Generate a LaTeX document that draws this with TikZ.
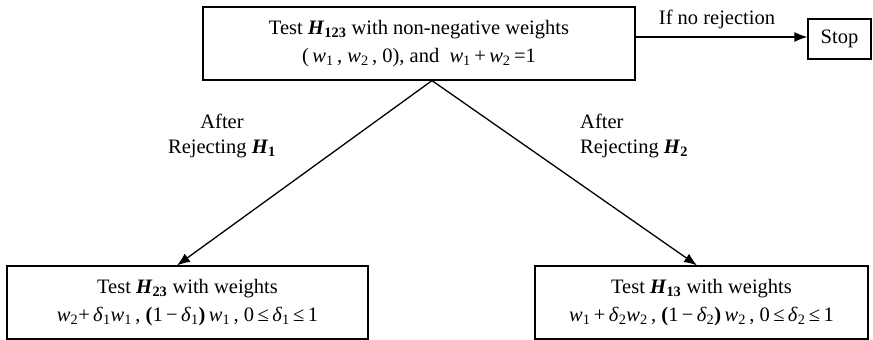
\documentclass[tikz,border=0pt]{standalone}
\usepackage{fontspec}
\setmainfont{Liberation Serif}
\usetikzlibrary{arrows.meta}
\newcommand\wi[1]{\textit{w}\textsubscript{#1}}
\newcommand\di[1]{\textit{δ}\textsubscript{#1}}
\newcommand\Hb[1]{\textbf{\textit{H}\textsubscript{#1}}}
\begin{document}
\begin{tikzpicture}[x=1pt,y=1pt,
  box/.style={draw, line width=1.2pt, align=center, inner sep=0pt,
    font=\fontsize{20.5}{28}\selectfont},
  lbl/.style={inner sep=0pt, font=\fontsize{20.5}{25}\selectfont},
  arr/.style={line width=1.3pt, -{Latex[length=13pt,width=10pt]}}]
\useasboundingbox (0,0) rectangle (873,-340);
\node[box, minimum width=432pt, minimum height=73pt] (top) at (419,-43.5)
  {Test \Hb{123} with non-negative weights\\(\,\wi1\,, \wi2\,, 0), and \ \wi1\,+\,\wi2\,=1};
\node[box, minimum width=63pt, minimum height=40pt] (stop) at (839.5,-39) {Stop};
\node[box, minimum width=361pt, minimum height=73pt] (bl) at (187.5,-302.5)
  {Test \Hb{23} with weights\\\wi2+\,\di1\wi1\,, \textbf{(}1\,−\,\di1\textbf{)}\,\wi1\,, 0\,≤\,\di1\,≤\,1};
\node[box, minimum width=333pt, minimum height=73pt] (br) at (701.5,-302.5)
  {Test \Hb{13} with weights\\\wi1\,+\,\di2\wi2\,, \textbf{(}1\,−\,\di2\textbf{)}\,\wi2\,, 0\,≤\,\di2\,≤\,1};
\node[lbl] (lno) at (717,-19) {If no rejection};
\node[lbl, align=center] (lh1) at (222,-136) {After\\Rejecting \Hb1};
\node[lbl, align=left, anchor=west] (lh2) at (580,-136) {After\\Rejecting \Hb2};
\coordinate (apex) at ([xshift=13pt]top.south);
\draw[arr] ([yshift=2pt]top.east |- stop.west) -- ([yshift=2pt]stop.west);
\draw[arr] (apex) -- ([xshift=-10.5pt]bl.north);
\draw[arr] (apex) -- ([xshift=-4.5pt]br.north);
\end{tikzpicture}
\end{document}
